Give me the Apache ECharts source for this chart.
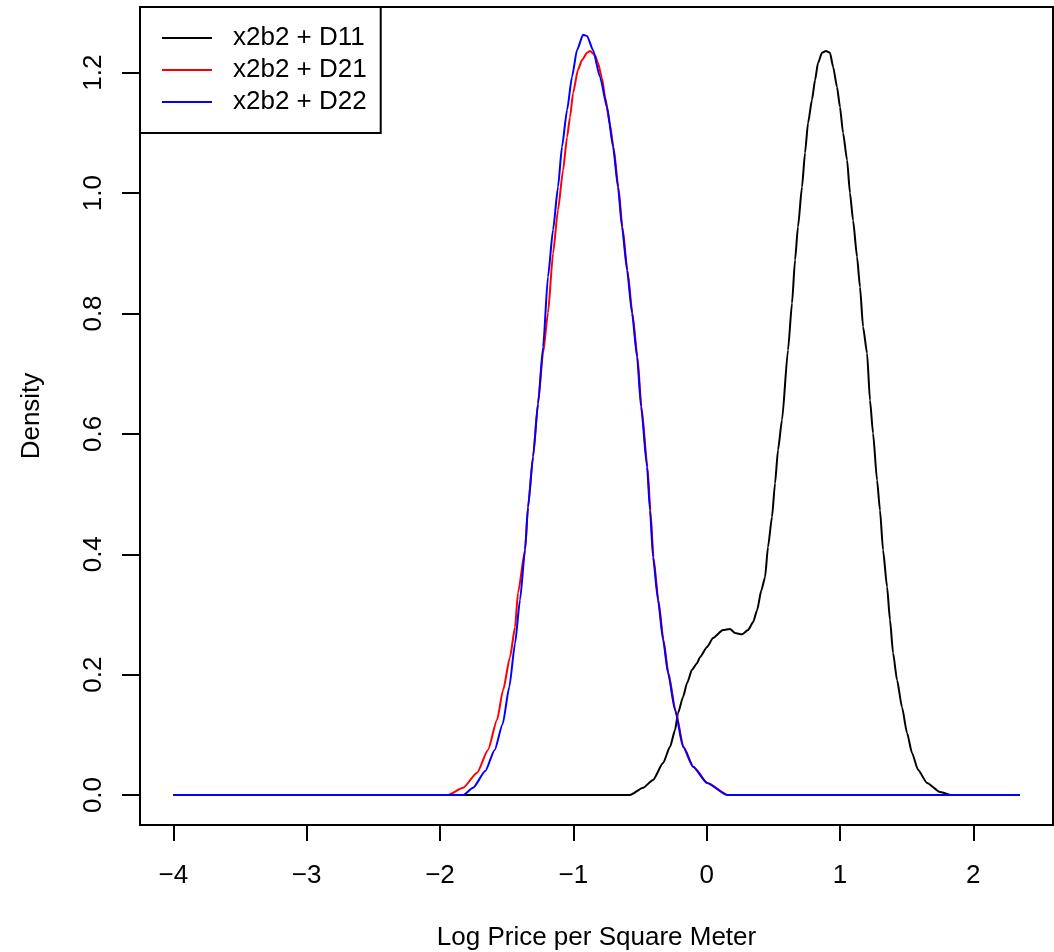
<!DOCTYPE html>
<html>
<head>
<meta charset="utf-8">
<script src="https://cdn.jsdelivr.net/npm/echarts@6/dist/echarts.min.js"></script>
<style>
html,body{margin:0;padding:0;background:#fff;}
#c{width:1054px;height:952px;}
</style>
</head>
<body>
<div id="c"></div>
<script>
const seriesNames = ['x2b2 + D11', 'x2b2 + D21', 'x2b2 + D22'];
const xTicks = [-4, -3, -2, -1, 0, 1, 2];
const yTicks = [0, 0.2, 0.4, 0.6, 0.8, 1.0, 1.2];

const d11 = [
  [-4, 0], [-0.575, 0], [-0.477, 0.012], [-0.402, 0.025], [-0.327, 0.053], [-0.275, 0.080],
  [-0.237, 0.108], [-0.215, 0.136], [-0.177, 0.163], [-0.147, 0.186], [-0.110, 0.208],
  [-0.072, 0.219], [-0.050, 0.229], [0.003, 0.246], [0.048, 0.261], [0.123, 0.274],
  [0.175, 0.276], [0.213, 0.269], [0.265, 0.267], [0.310, 0.274], [0.348, 0.287],
  [0.378, 0.307], [0.410, 0.340], [0.438, 0.362], [0.460, 0.412], [0.490, 0.462],
  [0.513, 0.518], [0.535, 0.573], [0.565, 0.623], [0.610, 0.739], [0.640, 0.817],
  [0.663, 0.889], [0.685, 0.944], [0.715, 1.010], [0.738, 1.067], [0.760, 1.116],
  [0.790, 1.155], [0.813, 1.188], [0.835, 1.216], [0.865, 1.233], [0.895, 1.236],
  [0.925, 1.233], [0.948, 1.210], [0.978, 1.176], [1.000, 1.143], [1.023, 1.100],
  [1.053, 1.055], [1.075, 1.000], [1.098, 0.955], [1.128, 0.894], [1.150, 0.844],
  [1.173, 0.778], [1.203, 0.734], [1.225, 0.656], [1.248, 0.601], [1.278, 0.523],
  [1.300, 0.473], [1.323, 0.407], [1.353, 0.346], [1.375, 0.291], [1.398, 0.236],
  [1.428, 0.191], [1.465, 0.146], [1.503, 0.103], [1.540, 0.070], [1.585, 0.042],
  [1.653, 0.020], [1.750, 0.005], [1.825, 0]
];

const d21 = [
  [-4, 0], [-1.940, 0], [-1.827, 0.012], [-1.722, 0.037], [-1.640, 0.075], [-1.572, 0.125],
  [-1.527, 0.174], [-1.475, 0.229], [-1.437, 0.279], [-1.415, 0.336], [-1.362, 0.407],
  [-1.340, 0.478], [-1.302, 0.562], [-1.265, 0.650], [-1.227, 0.734], [-1.190, 0.801],
  [-1.152, 0.900], [-1.115, 0.972], [-1.077, 1.038], [-1.047, 1.093], [-1.025, 1.126],
  [-1.002, 1.166], [-0.965, 1.205], [-0.935, 1.221], [-0.897, 1.233], [-0.875, 1.236],
  [-0.837, 1.229], [-0.815, 1.216], [-0.785, 1.191], [-0.762, 1.160], [-0.725, 1.113],
  [-0.699, 1.077], [-0.662, 1.010], [-0.632, 0.944], [-0.594, 0.872], [-0.557, 0.801],
  [-0.519, 0.728], [-0.489, 0.645], [-0.444, 0.545], [-0.422, 0.473], [-0.399, 0.395],
  [-0.362, 0.324], [-0.324, 0.258], [-0.287, 0.203], [-0.234, 0.141], [-0.174, 0.080],
  [-0.099, 0.047], [0.006, 0.020], [0.160, 0], [2.35, 0]
];

const d22 = [
  [-4, 0], [-1.827, 0], [-1.752, 0.012], [-1.660, 0.040], [-1.590, 0.075], [-1.530, 0.118],
  [-1.480, 0.180], [-1.437, 0.252], [-1.400, 0.324], [-1.362, 0.407], [-1.340, 0.478],
  [-1.302, 0.562], [-1.265, 0.650], [-1.227, 0.744], [-1.190, 0.861], [-1.152, 0.939],
  [-1.115, 1.010], [-1.085, 1.077], [-1.047, 1.138], [-1.010, 1.193], [-0.972, 1.238],
  [-0.927, 1.263], [-0.897, 1.261], [-0.853, 1.238], [-0.800, 1.193], [-0.747, 1.143],
  [-0.702, 1.077], [-0.665, 1.010], [-0.635, 0.944], [-0.597, 0.872], [-0.560, 0.801],
  [-0.522, 0.728], [-0.492, 0.645], [-0.447, 0.545], [-0.425, 0.473], [-0.402, 0.395],
  [-0.365, 0.324], [-0.327, 0.258], [-0.290, 0.203], [-0.237, 0.141], [-0.177, 0.080],
  [-0.102, 0.047], [0.003, 0.020], [0.153, 0], [2.35, 0]
];

const seriesData = [d11, d21, d22];
const seriesColors = ['#000000', '#ff0000', '#0000ff'];

const FONT = '"Liberation Sans", Arial, Helvetica, sans-serif';
const chart = echarts.init(document.getElementById('c'), null, {renderer: 'canvas'});

chart.setOption({
  backgroundColor: '#ffffff',
  animation: false,
  textStyle: {fontFamily: FONT, color: '#000'},
  grid: {
    left: 140, top: 7, width: 913, height: 818,
    containLabel: false,
    outerBoundsMode: 'none',
    show: true, borderColor: '#000', borderWidth: 2, backgroundColor: 'transparent'
  },
  legend: {
    left: 140, top: 7,
    orient: 'vertical',
    backgroundColor: '#fff',
    borderColor: '#000', borderWidth: 2, borderRadius: 0,
    padding: [18, 14, 18, 22],
    itemWidth: 50, itemHeight: 2, itemGap: 6,
    icon: 'rect',
    textStyle: {fontFamily: FONT, fontSize: 26, color: '#000', lineHeight: 26, padding: [0, 0, 0, 16]},
    data: seriesNames
  },
  xAxis: {
    type: 'value',
    min: -4.25, max: 2.5976,
    name: 'Log Price per Square Meter',
    nameLocation: 'middle', nameGap: 100,
    nameTextStyle: {fontFamily: FONT, fontSize: 26, color: '#000'},
    axisLine: {show: false, onZero: false},
    splitLine: {show: false},
    axisTick: {show: true, inside: false, length: 16, lineStyle: {color: '#000', width: 2}, customValues: xTicks},
    axisLabel: {
      margin: 38, fontSize: 26, color: '#000', fontFamily: FONT,
      customValues: xTicks,
      formatter: v => (v < 0 ? '\u2212' + Math.abs(v) : String(v))
    }
  },
  yAxis: {
    type: 'value',
    min: -0.0498, max: 1.3092,
    name: 'Density',
    nameLocation: 'middle', nameGap: 95, nameRotate: 90,
    nameTextStyle: {fontFamily: FONT, fontSize: 26, color: '#000'},
    axisLine: {show: false, onZero: false},
    splitLine: {show: false},
    axisTick: {show: true, inside: false, length: 18, lineStyle: {color: '#000', width: 2}, customValues: yTicks},
    axisLabel: {
      margin: 33, fontSize: 26, color: '#000', fontFamily: FONT, rotate: 90,
      customValues: yTicks,
      formatter: v => v.toFixed(1)
    }
  },
  series: seriesNames.map((name, i) => ({
    name: name,
    type: 'line',
    data: seriesData[i],
    showSymbol: false,
    symbol: 'none',
    smooth: 0.2,
    smoothMonotone: 'x',
    color: seriesColors[i],
    lineStyle: {color: seriesColors[i], width: 2},
    z: 2 + i
  }))
});
</script>
</body>
</html>
